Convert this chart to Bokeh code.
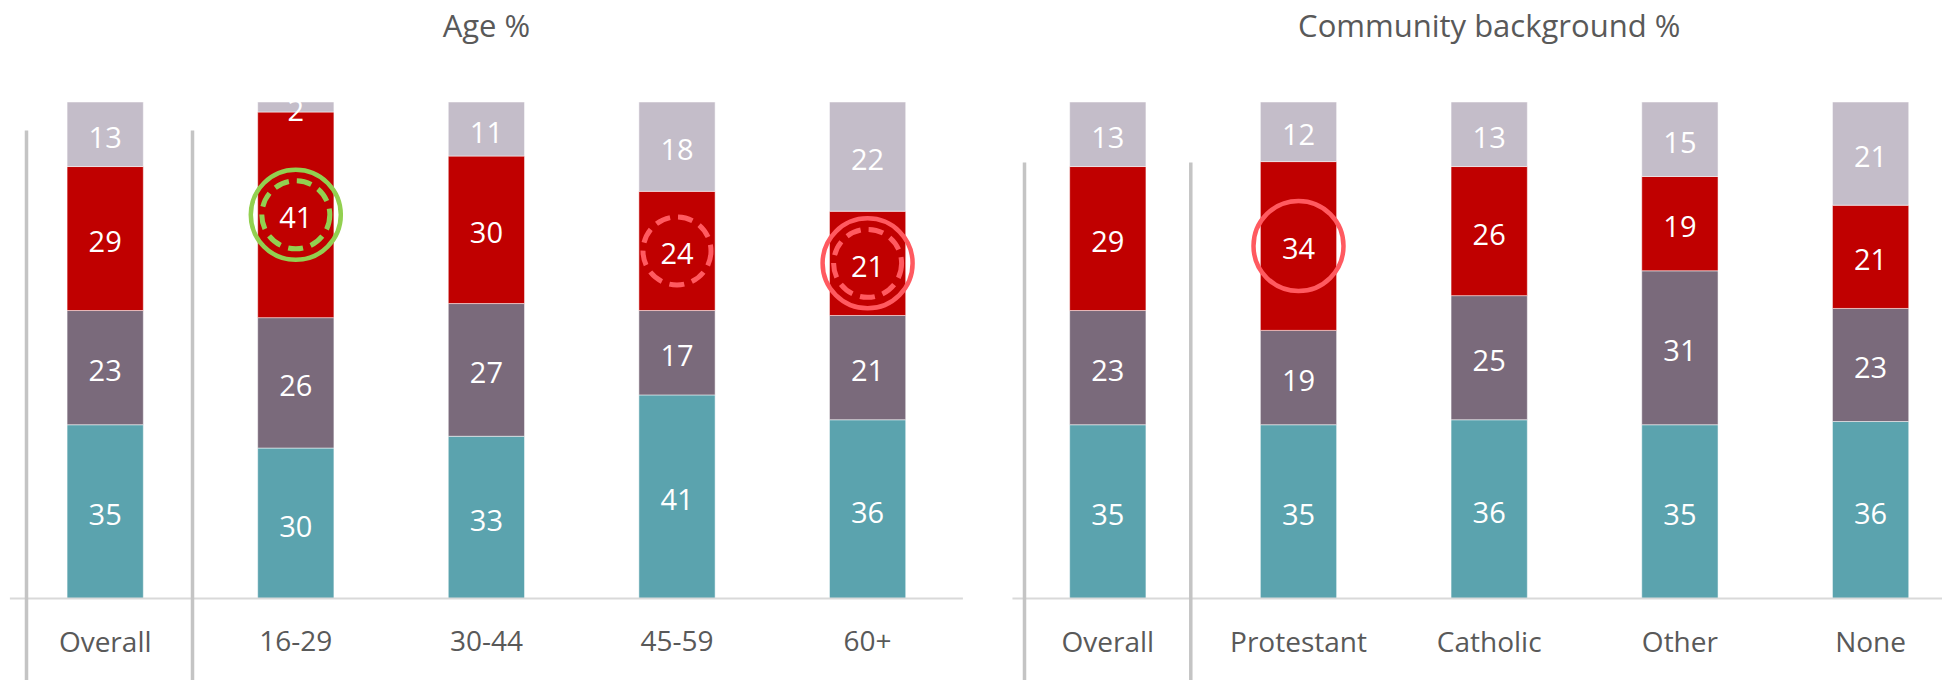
import numpy as np
from bokeh.plotting import figure
from bokeh.layouts import row
from bokeh.models import ColumnDataSource, Label
from bokeh.core.properties import value
from bokeh.embed import file_html
from bokeh.resources import INLINE

# ---------------- data ----------------
stack_names = ["seg1", "seg2", "seg3", "seg4"]          # bottom -> top
colors = ["#5BA3AE", "#7A6A7B", "#C00000", "#C4BDC9"]

age_title = "Age %"
age_categories = ["Overall", "16-29", "30-44", "45-59", "60+"]
age_seg1 = [35, 30, 33, 41, 36]
age_seg2 = [23, 26, 27, 17, 21]
age_seg3 = [29, 41, 30, 24, 21]
age_seg4 = [13, 2, 11, 18, 22]

comm_title = "Community background %"
comm_categories = ["Overall", "Protestant", "Catholic", "Other", "None"]
comm_seg1 = [35, 35, 36, 35, 36]
comm_seg2 = [23, 19, 25, 31, 23]
comm_seg3 = [29, 34, 26, 19, 21]
comm_seg4 = [13, 12, 13, 15, 21]

# highlighted values: (category, segment index)
age_green = [("16-29", 2)]
age_red_dashed = [("45-59", 2), ("60+", 2)]
age_red_solid = [("60+", 2)]
comm_red_solid = [("Protestant", 2)]

# ---------------- layout constants ----------------
FIG_W_L = 975
FIG_W_R = 967
FIG_H = 680
PX_PER_PCT = 4.965
BASE_FROM_TOP = 598
Y_END = BASE_FROM_TOP / PX_PER_PCT
Y_START = -(FIG_H - BASE_FROM_TOP) / PX_PER_PCT
FONT = "Open Sans"
TXT = "#595959"
GREEN = "#92D050"
RED = "#FF5A60"


def make_panel(title, cats, segs, width, x_range, seps, sep_top, green, red_dashed, red_solid):
    p = figure(width=width, height=FIG_H, x_range=x_range, y_range=(Y_START, Y_END),
               output_backend="svg", toolbar_location=None,
               x_axis_location=None, y_axis_location=None,
               min_border=0, outline_line_color=None)
    p.grid.visible = False
    idx = list(range(len(cats)))
    arr = np.array(segs, dtype=float)
    norm = arr / arr.sum(axis=0) * 100.0
    data = {"x": idx}
    for name, col in zip(stack_names, norm):
        data[name] = col
    src = ColumnDataSource(data)
    p.vbar_stack(stack_names, x="x", width=0.4, color=colors, source=src,
                 line_color="white", line_width=1, line_alpha=0.5)

    # baseline
    p.segment(x0=[-0.5], y0=[0], x1=[len(cats) - 0.5], y1=[0],
              line_color="#D9D9D9", line_width=2)
    # separators
    p.segment(x0=seps, y0=[sep_top] * len(seps), x1=seps, y1=[Y_START - 5] * len(seps),
              line_color="#C4C4C4", line_width=3.5)

    # value labels at segment centres
    cum = np.cumsum(norm, axis=0)
    mids = cum - norm / 2
    lx, ly, lt = [], [], []
    for s in range(arr.shape[0]):
        for i in idx:
            lx.append(i)
            ly.append(mids[s, i])
            lt.append(str(int(arr[s, i])))
    p.text(x=lx, y=ly, text=lt, text_align="center", text_baseline="middle",
           y_offset=3, text_color="white", text_font=value(FONT),
           text_font_size=value("29px"))

    def pos(items):
        return ([cats.index(c) for c, s in items], [mids[s, cats.index(c)] for c, s in items])

    if green:
        gx, gy = pos(green)
        p.scatter(gx, gy, marker="circle", size=90, fill_color=None,
                  line_color=GREEN, line_width=4.5)
        p.scatter(gx, gy, marker="circle", size=68, fill_color=None,
                  line_color=GREEN, line_width=5, line_dash="15 8")
    if red_dashed:
        rx, ry = pos(red_dashed)
        p.scatter(rx, ry, marker="circle", size=68, fill_color=None,
                  line_color=RED, line_width=5, line_dash="15 8")
    if red_solid:
        rx, ry = pos(red_solid)
        p.scatter(rx, ry, marker="circle", size=90, fill_color=None,
                  line_color=RED, line_width=4.5)

    # category labels
    p.text(x=idx, y=[-42.0 / PX_PER_PCT] * len(cats), text=cats, text_align="center",
           text_baseline="middle", text_color=TXT, text_font=value(FONT),
           text_font_size=value("28px"))
    # title
    p.add_layout(Label(x=(len(cats) - 1) / 2, y=(BASE_FROM_TOP - 24) / PX_PER_PCT, text=title,
                       text_align="center", text_baseline="middle", text_color=TXT,
                       text_font=FONT, text_font_size="31px"))
    return p


spacing_l = 190.6
xs_l = -104.7 / spacing_l
p1 = make_panel(age_title, age_categories,
                [age_seg1, age_seg2, age_seg3, age_seg4], FIG_W_L,
                (xs_l, xs_l + FIG_W_L / spacing_l),
                [(26 - 104.7) / spacing_l, (192 - 104.7) / spacing_l],
                (598 - 130) / PX_PER_PCT,
                age_green, age_red_dashed, age_red_solid)

spacing_r = 190.7
xs_r = -(1107.3 - 975) / spacing_r
p2 = make_panel(comm_title, comm_categories,
                [comm_seg1, comm_seg2, comm_seg3, comm_seg4], FIG_W_R,
                (xs_r, xs_r + FIG_W_R / spacing_r),
                [(1024 - 1107.3) / spacing_r, (1190.3 - 1107.3) / spacing_r],
                (598 - 162) / PX_PER_PCT,
                [], [], comm_red_solid)

layout = row(p1, p2, spacing=0)
open("out.html", "w").write(file_html(layout, INLINE))
